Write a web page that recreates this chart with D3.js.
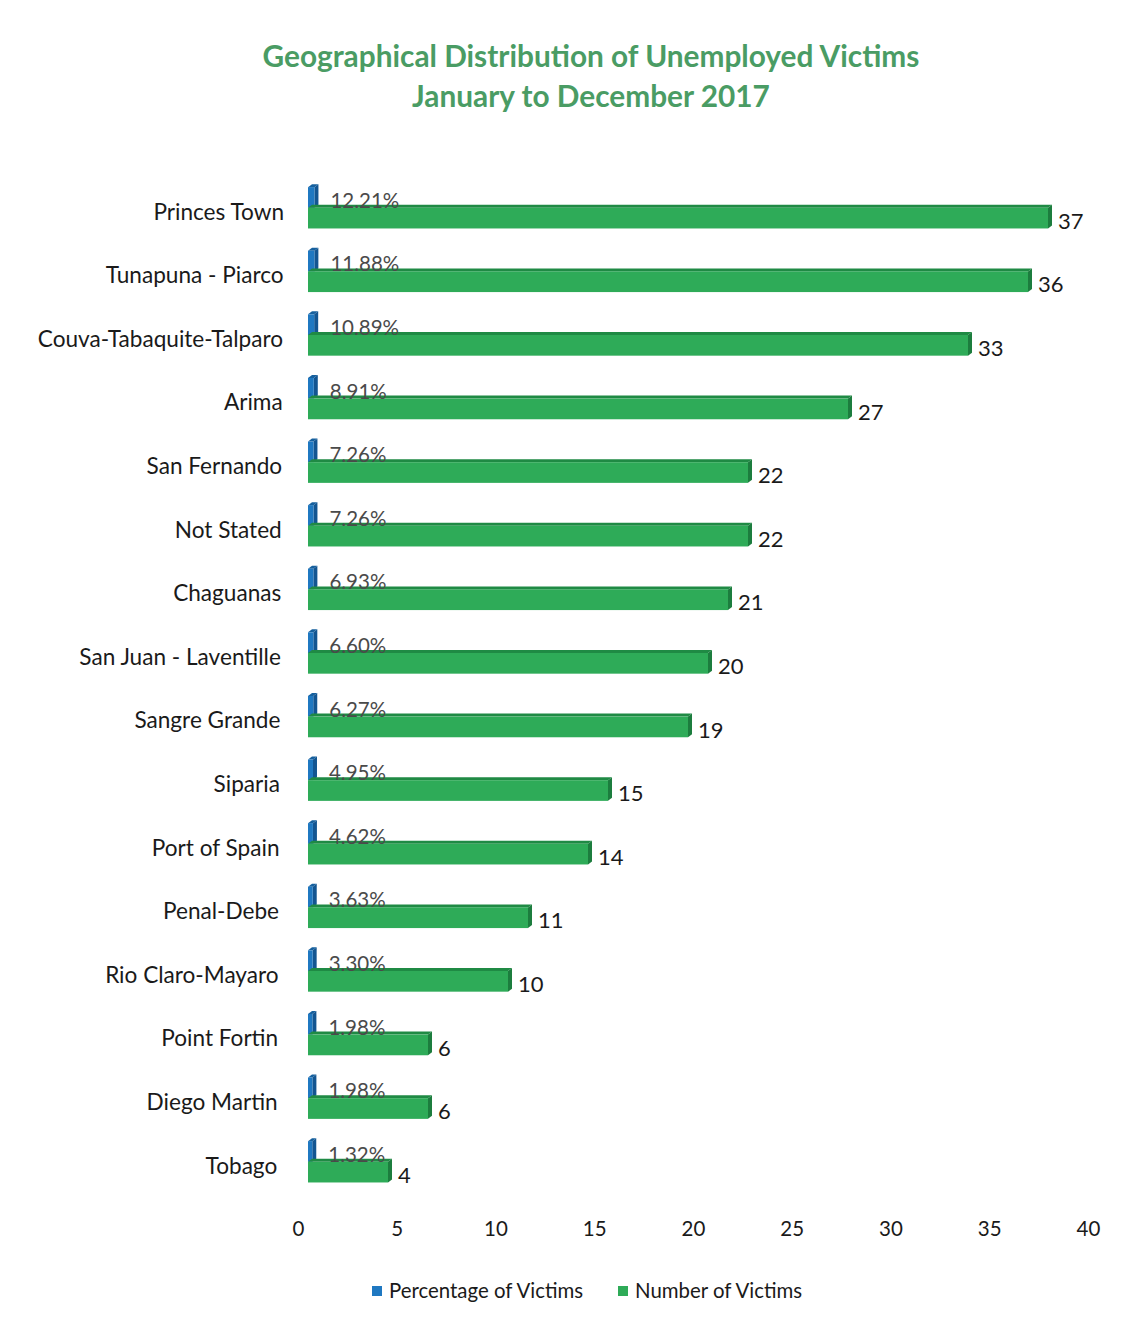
<!DOCTYPE html>
<html>
<head>
<meta charset="utf-8">
<script src="https://cdn.jsdelivr.net/npm/d3@7/dist/d3.min.js"></script>
<style>
  html, body { margin: 0; padding: 0; background: #ffffff; }
  svg { display: block; font-family: Lato, "Open Sans", sans-serif; }
</style>
</head>
<body>
<svg id="chart" width="1144" height="1320"></svg>
<script>
// Areas, in chart order (top to bottom)
const areas = [
  "Princes Town", "Tunapuna - Piarco", "Couva-Tabaquite-Talparo", "Arima",
  "San Fernando", "Not Stated", "Chaguanas", "San Juan - Laventille",
  "Sangre Grande", "Siparia", "Port of Spain", "Penal-Debe",
  "Rio Claro-Mayaro", "Point Fortin", "Diego Martin", "Tobago"
];
// Number of unemployed victims per area
const victimCounts = [37, 36, 33, 27, 22, 22, 21, 20, 19, 15, 14, 11, 10, 6, 6, 4];
// Share of all unemployed victims (percent)
const victimPercents = [12.21, 11.88, 10.89, 8.91, 7.26, 7.26, 6.93, 6.60, 6.27, 4.95, 4.62, 3.63, 3.30, 1.98, 1.98, 1.32];
// Value axis ticks
const axisTicks = [0, 5, 10, 15, 20, 25, 30, 35, 40];

const seriesNames = ["Percentage of Victims", "Number of Victims"];
const seriesColors = { front: ["#1f78c1", "#2eab58"], top: ["#16609e", "#1f8a44"], side: ["#135591", "#1c7d3e"] };

const svg = d3.select("#chart");

// Title
const title = svg.append("g").attr("fill", "#4a9c64").attr("font-weight", "bold")
  .attr("font-size", 29.8).attr("text-anchor", "middle");
title.append("text").attr("x", 591).attr("y", 67).text("Geographical Distribution of Unemployed Victims");
title.append("text").attr("x", 591).attr("y", 107).text("January to December 2017");

// Scales: bars sit on the back plane, tick labels on the front edge of the floor
const x = d3.scaleLinear().domain([0, 40]).range([308, 1108]);
const xFloor = d3.scaleLinear().domain([0, 40]).range([298, 1088]);
const y = d3.scaleBand().domain(areas).range([176, 176 + 16 * 63.6])
  .paddingInner(0.35).paddingOuter(0.175);
const ySeries = d3.scaleBand().domain([0, 1]).range([0, y.bandwidth()]);

const depth = { dx: 4, dy: -3 };

function bar3d(g, x0, x1, yTop, h, s) {
  const w = Math.max(x1 - x0, 0);
  // top face
  g.append("path")
    .attr("d", `M${x0},${yTop} L${x0 + depth.dx},${yTop + depth.dy} L${x1 + depth.dx},${yTop + depth.dy} L${x1},${yTop} Z`)
    .attr("fill", seriesColors.top[s]);
  // right side face
  g.append("path")
    .attr("d", `M${x1},${yTop} L${x1 + depth.dx},${yTop + depth.dy} L${x1 + depth.dx},${yTop + h + depth.dy} L${x1},${yTop + h} Z`)
    .attr("fill", seriesColors.side[s]);
  // front face
  g.append("rect").attr("x", x0).attr("y", yTop).attr("width", w).attr("height", h)
    .attr("fill", seriesColors.front[s]);
}

const rows = svg.append("g");
areas.forEach((name, i) => {
  const g = rows.append("g");
  const band = y(name);
  const h = ySeries.bandwidth();
  // percentage bar (fraction on the same value axis)
  const pctVal = victimPercents[i] / 100;
  bar3d(g, x(0), x(pctVal) + 4, band + ySeries(0), h, 0);
  // count bar
  bar3d(g, x(0), x(victimCounts[i]), band + ySeries(1), h, 1);

  // category label
  g.append("text").attr("x", 284 - i * 0.45).attr("y", band + h + 6)
    .attr("text-anchor", "end").attr("dominant-baseline", "middle")
    .attr("font-size", 22.6).attr("fill", "#1a1a1a").text(name);

  // percentage label
  g.append("text").attr("x", x(pctVal) + 20).attr("y", band + ySeries(0) + h)
    .attr("font-size", 20.5).attr("fill", "#4a4a4a")
    .text(victimPercents[i].toFixed(2) + "%");

  // count label
  g.append("text").attr("x", x(victimCounts[i]) + 10).attr("y", band + ySeries(1) + h / 2 + 5)
    .attr("dominant-baseline", "middle").attr("font-size", 22).attr("fill", "#1a1a1a")
    .text(victimCounts[i]);
});

// Value axis (labels only)
const axis = svg.append("g").attr("transform", "translate(0,1221)")
  .call(d3.axisBottom(xFloor).tickValues(axisTicks).tickSize(0).tickPadding(0));
axis.select(".domain").remove();
axis.selectAll("text").attr("font-size", 20.5).attr("fill", "#1a1a1a")
  .attr("font-family", "Lato, 'Open Sans', sans-serif");

// Legend
const legendX = [372, 618];
const legend = svg.append("g");
seriesNames.forEach((n, s) => {
  legend.append("rect").attr("x", legendX[s]).attr("y", 1286).attr("width", 10).attr("height", 10)
    .attr("fill", seriesColors.front[s]);
  legend.append("text").attr("x", legendX[s] + 17).attr("y", 1298)
    .attr("font-size", 20.4).attr("fill", "#1a1a1a").text(n);
});
</script>
</body>
</html>
